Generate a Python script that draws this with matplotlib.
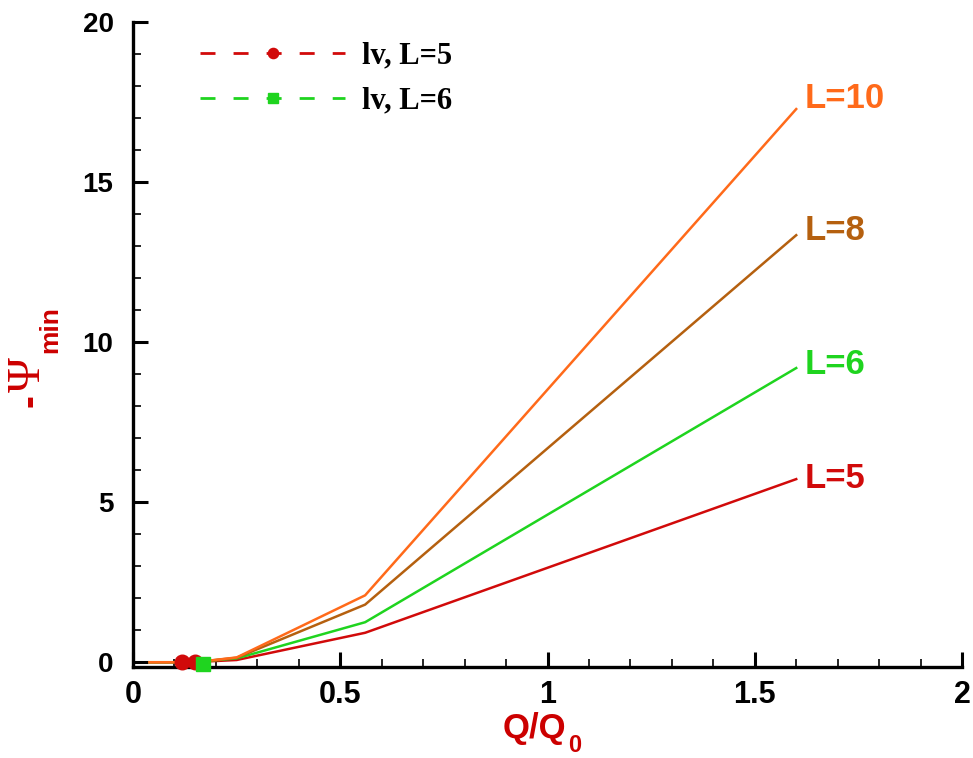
import matplotlib.pyplot as plt
from matplotlib.ticker import MultipleLocator

# Q/Q0 sample points shared by all curves
q = [0.04, 0.10, 0.17, 0.25, 0.56, 1.60]
psi_L5 = [0.0, 0.0, 0.02, 0.07, 0.92, 5.72]
psi_L6 = [0.0, 0.0, 0.03, 0.12, 1.25, 9.19]
psi_L8 = [0.0, 0.0, 0.03, 0.14, 1.80, 13.34]
psi_L10 = [0.0, 0.0, 0.03, 0.15, 2.09, 17.28]

# lv points
lv5_q = [0.118, 0.150]
lv5_psi = [0.0, 0.0]
lv6_q = [0.168]
lv6_psi = [-0.05]

labels = ['L=5', 'L=6', 'L=8', 'L=10']
colors = ['#d10a0a', '#1fd41f', '#b5600f', '#ff6a1a']
label_y = [5.75, 9.3, 13.5, 17.6]
red_lab = '#cc0000'

fig = plt.figure(figsize=(9.73, 7.58), dpi=100)
ax = fig.add_axes([0.1367, 0.12, 0.852, 0.851])

for ys, c, lab, ly in zip([psi_L5, psi_L6, psi_L8, psi_L10], colors, labels, label_y):
    ax.plot(q, ys, color=c, lw=1.8, zorder=3)
    ax.text(1.62, ly, lab, color=c, fontsize=25, fontweight='bold',
            family='Liberation Sans', ha='left', va='center')

h1, = ax.plot(lv5_q, lv5_psi, ls=(0, (5.4, 6.5)), color='#d10a0a', marker='o',
              ms=10.5, lw=2, zorder=5, label='lv, L=5', clip_on=False)
h2, = ax.plot(lv6_q, lv6_psi, ls=(0, (5.4, 6.5)), color='#1fd41f', marker='s',
              ms=9.5, lw=2, zorder=5, label='lv, L=6', clip_on=False)

leg = ax.legend(handles=[h1, h2], loc='upper left', bbox_to_anchor=(0.081, 0.97),
                frameon=False, borderpad=0, borderaxespad=0,
                handlelength=4.75, handletextpad=0.55,
                labelspacing=0.53, numpoints=1, markerscale=0.7,
                prop={'family': 'Liberation Serif', 'weight': 'bold', 'size': 22})

ax.set_xlim(0, 2)
ax.set_ylim(-0.15, 20)
ax.xaxis.set_major_locator(MultipleLocator(0.5))
ax.xaxis.set_minor_locator(MultipleLocator(0.1))
ax.yaxis.set_major_locator(MultipleLocator(5))
ax.yaxis.set_minor_locator(MultipleLocator(1))
ax.set_xticks([0, 0.5, 1, 1.5, 2], ['0', '0.5', '1', '1.5', '2'])

ax.spines['top'].set_visible(False)
ax.spines['right'].set_visible(False)
for s in ['left', 'bottom']:
    ax.spines[s].set_linewidth(2.4)

ax.tick_params(which='major', direction='in', length=11, width=2.2)
ax.tick_params(which='minor', direction='in', length=6, width=1.2)
for t in ax.get_xticklabels():
    t.set_fontfamily('Liberation Sans')
    t.set_fontweight('bold')
    t.set_fontsize(22)
for t in ax.get_yticklabels():
    t.set_fontfamily('Liberation Sans')
    t.set_fontweight('bold')
    t.set_fontsize(20)
ax.tick_params(axis='x', pad=9)
ax.tick_params(axis='y', pad=14)

# x label: Q/Q0 with a large subscript
fig.text(566 / 973, 1 - 738 / 758, 'Q/Q', color=red_lab, fontsize=25,
         fontweight='bold', family='Liberation Sans', ha='right', va='baseline')
fig.text(568 / 973, 1 - 752 / 758, '0', color=red_lab, fontsize=17,
         fontweight='bold', family='Liberation Sans', ha='left', va='baseline')

# y label: -Psi_min, rotated
fig.text(31 / 973, 1 - 401 / 758, '-', color=red_lab, fontsize=28,
         fontweight='bold', family='Liberation Sans', rotation=90,
         ha='center', va='center')
fig.text(28.5 / 973, 1 - 375 / 758, 'Ψ', color=red_lab, fontsize=34,
         family='Liberation Serif', rotation=90, ha='center', va='center')
fig.text(50 / 973, 1 - 330 / 758, 'min', color=red_lab, fontsize=19,
         fontweight='bold', family='Liberation Sans', rotation=90,
         ha='center', va='center')

fig.savefig('out.png', dpi=100)
